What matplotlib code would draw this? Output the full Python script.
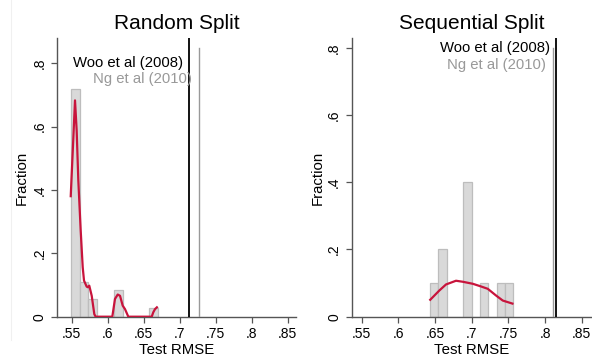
import matplotlib
matplotlib.use("Agg")
from matplotlib import pyplot as plt
from matplotlib.lines import Line2D
import numpy as np

plt.rcParams['font.family'] = ['Liberation Sans', 'DejaVu Sans']

# histogram data (fraction per bin)
rand_bin_start = 0.549
rand_bin_width = 0.01208
rand_frac = [0.72, 0.111, 0.056, 0, 0, 0.083, 0, 0, 0, 0.028]

seq_bin_start = 0.6432
seq_bin_width = 0.01136
seq_frac = [0.1, 0.2, 0, 0, 0.4, 0, 0.1, 0, 0.1, 0.1]

# kernel density curves
rand_kde_x = [0.5486, 0.5546, 0.5569, 0.5592, 0.5625, 0.5653, 0.5671, 0.5708, 0.5725,
              0.5744, 0.5778, 0.5814, 0.5833, 0.6064, 0.6101, 0.6139, 0.6171, 0.6208,
              0.624, 0.6286, 0.6611, 0.6633, 0.6657, 0.6694]
rand_kde_y = [0.377, 0.683, 0.588, 0.43, 0.272, 0.156, 0.114, 0.095, 0.093,
              0.098, 0.066, 0.008, 0, 0, 0.056, 0.07, 0.066, 0.035,
              0.024, 0, 0, 0.014, 0.024, 0.032]

seq_kde_x = [0.6424, 0.6559, 0.665, 0.6786, 0.6878, 0.7014, 0.7127, 0.7219, 0.7332, 0.7424, 0.757]
seq_kde_y = [0.048, 0.078, 0.096, 0.107, 0.104, 0.098, 0.090, 0.083, 0.063, 0.048, 0.038]

# benchmark RMSE lines
rand_woo, rand_ng = 0.7129, 0.7268
seq_woo, seq_ng = 0.8146, 0.8114

xticks = [0.55, 0.6, 0.65, 0.7, 0.75, 0.8, 0.85]
xticklabels = ['.55', '.6', '.65', '.7', '.75', '.8', '.85']
yticks = [0, 0.2, 0.4, 0.6, 0.8]
yticklabels = ['0', '.2', '.4', '.6', '.8']

axis_col = '#555555'
kde_col = '#c8143c'
ng_col = '#999999'

fig = plt.figure(figsize=(5.92, 3.56), dpi=100)
W, H = 592.0, 356.0
ax1 = fig.add_axes([57 / W, (H - 316.7) / H, (295.7 - 57) / W, (316.7 - 38.3) / H])
ax2 = fig.add_axes([351.7 / W, (H - 316.7) / H, (592 - 351.7) / W, (316.7 - 38.3) / H])

# faint border line at left
fig.add_artist(Line2D([10.5 / W, 10.5 / W], [(H - 340) / H, 1], color='#f0f0f0', lw=0.8))


def panel(ax, title, start, width, frac, kx, ky, woo, ng, xlim, ylim, ylpad):
    edges = [start + width * i for i in range(len(frac))]
    ax.bar(edges, frac, width=width, align='edge', color='#d9d9d9',
           edgecolor='#bdbdbd', linewidth=0.9, zorder=2)
    ax.plot(kx, ky, color=kde_col, lw=1.6, zorder=3, solid_capstyle='butt')
    ax.axvline(ng, ymax=0.965, color=ng_col, lw=1.0, zorder=4)
    ax.axvline(woo, color='black', lw=1.3, zorder=5)
    ax.text(woo - 0.008, 0.8, 'Woo et al (2008)', ha='right', va='center',
            fontsize=10.7, color='black', zorder=6)
    ax.text(ng - 0.01, 0.75, 'Ng et al (2010)', ha='right', va='center',
            fontsize=10.7, color=ng_col, zorder=6)
    ax.set_xlim(*xlim)
    ax.set_ylim(*ylim)
    ax.set_xticks(xticks)
    ax.set_xticklabels(xticklabels)
    ax.set_yticks(yticks)
    ax.set_yticklabels(yticklabels, rotation=90, va='center')
    for s in ['top', 'right']:
        ax.spines[s].set_visible(False)
    for s in ['left', 'bottom']:
        ax.spines[s].set_color(axis_col)
        ax.spines[s].set_linewidth(1.0)
    ax.tick_params(axis='both', colors=axis_col, length=4.2, width=0.9,
                   labelsize=10, labelcolor='black')
    ax.tick_params(axis='x', pad=3)
    ax.tick_params(axis='y', pad=3.5)
    ax.set_xlabel('Test RMSE', fontsize=10.8, labelpad=1.5)
    ax.set_ylabel('Fraction', fontsize=10.8, labelpad=ylpad)
    ax.set_title(title, fontsize=15, pad=6.5)


panel(ax1, 'Random Split', rand_bin_start, rand_bin_width, rand_frac,
      rand_kde_x, rand_kde_y, rand_woo, rand_ng, (0.5296, 0.861), (0, 0.879), 2.5)
panel(ax2, 'Sequential Split', seq_bin_start, seq_bin_width, seq_frac,
      seq_kde_x, seq_kde_y, seq_woo, seq_ng, (0.5364, 0.864), (0, 0.8285), 1.5)

fig.savefig('out.png', dpi=100)
